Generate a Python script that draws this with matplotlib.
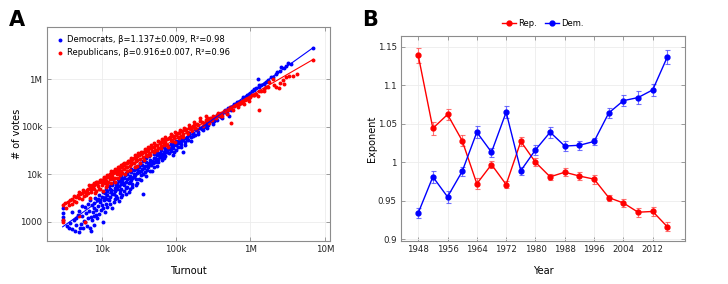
import numpy as np
import matplotlib
matplotlib.use("Agg")
import matplotlib.pyplot as plt
from matplotlib.lines import Line2D
from matplotlib.ticker import FixedLocator, FixedFormatter, FuncFormatter

# ---- panel A: county (turnout, votes), both in thousands ----
dem_points_k = [
    (3.0, 1.9), (3.0, 1.5), (3.0, 1.25), (3.0, 1.1), (3.4, 0.8), (3.6, 0.75), (3.8, 0.95), (4.0, 0.7),
    (4.2, 1.1), (4.4, 0.65), (4.6, 0.85), (4.8, 1.4), (5.0, 1.7), (5.0, 0.6), (5.1, 0.75), (5.3, 0.9),
    (5.5, 1.3), (5.6, 0.72), (5.8, 1.05), (6.0, 1.0), (6.0, 2.0), (6.2, 1.5), (6.4, 0.8), (6.6, 1.2),
    (7.0, 0.75), (7.1, 0.65), (7.2, 1.25), (7.4, 2.2), (7.6, 1.6), (7.8, 1.9), (8.0, 2.5), (8.0, 0.85),
    (8.3, 1.4), (8.5, 1.8), (8.7, 2.9), (9.0, 3.0), (9.0, 2.1), (9.3, 1.45), (9.6, 2.6), (10.0, 3.3),
    (10.2, 2.2), (10.5, 0.98), (10.8, 2.8), (11, 4.0), (11.2, 3.1), (11.5, 2.4), (12, 3.6), (12, 4.5),
    (12.5, 2.9), (13, 5.0), (13, 3.3), (13.5, 4.2), (14, 3.8), (14, 6.0), (14.5, 2.6), (15, 5.2),
    (15, 4.4), (15.5, 3.5), (16, 6.5), (16, 4.9), (17, 5.7), (17, 7.2), (17.5, 4.0), (18, 6.3),
    (18, 8.0), (18.5, 5.0), (19, 7.0), (19, 3.6), (20, 8.5), (20, 6.0), (20.5, 9.5), (21, 5.2),
    (22, 7.8), (22, 10), (23, 6.6), (23, 4.2), (24, 9.0), (25, 11), (25, 7.5), (26, 8.5), (27, 12.5),
    (28, 9.8), (29, 6.0), (30, 13), (30, 10.5), (32, 14.5), (32, 8.0), (34, 12), (35, 16), (36, 10),
    (38, 15), (36, 3.8), (40, 18), (42, 14), (45, 20), (46, 16), (48, 12), (50, 22), (52, 18),
    (55, 25), (55, 15), (58, 21), (60, 28), (62, 24), (65, 20), (68, 30), (70, 26), (72, 34),
    (75, 29), (80, 36), (85, 31), (88, 40), (90, 25), (95, 45), (100, 42), (105, 37), (110, 50),
    (115, 44), (120, 55), (125, 30), (130, 48), (140, 62), (145, 52), (150, 68), (160, 60), (170, 75),
    (180, 66), (190, 85), (200, 78), (210, 95), (220, 88), (240, 100), (250, 110), (260, 95),
    (280, 125), (300, 135), (310, 115), (330, 150), (350, 140), (380, 170), (400, 160), (420, 190),
    (450, 210), (480, 200), (500, 240), (520, 170), (550, 260), (600, 280), (650, 300), (700, 330),
    (750, 350), (800, 390), (850, 420), (900, 450), (950, 500), (1000, 520), (1050, 560), (1100, 600),
    (1250, 1000), (1200, 650), (1300, 700), (1400, 760), (1500, 800), (1700, 950), (1900, 1100),
    (2000, 1150), (2200, 1300), (2500, 1500), (2800, 1700), (3000, 1900), (3500, 2100), (7000, 4600),
    (4.0, 1.6), (4.5, 1.2), (5.5, 2.1), (6.5, 2.4), (7.0, 2.8), (7.5, 1.1), (8.2, 3.2), (8.8, 1.2),
    (9.2, 3.6), (9.8, 1.8), (10.5, 4.2), (11, 1.6), (11.5, 5.0), (12, 2.0), (12.5, 5.6), (13, 2.4),
    (13.5, 6.2), (14, 1.9), (14.5, 7.0), (15, 3.0), (15.5, 6.0), (16, 3.2), (16.5, 7.8), (17, 2.7),
    (18, 9.0), (18.5, 3.3), (19, 8.0), (20, 4.5), (21, 10.5), (21, 3.8), (22, 5.5), (23, 11.5),
    (24, 6.8), (24, 4.8), (25, 13), (26, 5.5), (27, 10), (28, 14), (29, 8.0), (30, 6.5), (31, 15),
    (32, 11), (33, 17), (34, 7.5), (35, 13), (36, 19), (38, 11), (40, 22), (40, 9.0), (42, 16),
    (44, 24), (45, 12), (47, 19), (50, 27), (50, 14), (53, 22), (55, 30), (57, 18), (60, 23),
    (62, 33), (65, 27), (68, 22), (70, 37), (72, 24), (75, 33), (78, 40), (80, 28), (85, 44),
    (90, 36), (95, 30), (100, 50), (100, 33), (110, 46), (115, 38), (120, 60), (125, 52), (130, 42),
    (140, 55), (150, 75), (160, 50), (170, 65), (180, 90), (200, 70), (220, 100), (230, 85),
    (250, 120), (270, 110), (300, 150), (320, 130), (360, 180), (400, 185), (420, 150), (450, 230),
    (500, 250), (550, 230), (600, 310), (650, 340), (700, 300), (800, 420), (900, 480), (1100, 620),
    (1300, 750), (1600, 900), (2300, 1400), (2600, 1800), (3200, 2200),
    (6.8, 1.7), (8.0, 1.3), (9.5, 2.9), (10.5, 1.9), (11.8, 3.0), (13.2, 4.6), (14.8, 3.9),
    (16.2, 5.6), (17.8, 4.6), (19.5, 6.6), (21.5, 7.0), (23.5, 8.2), (25.5, 6.2), (27.5, 8.8),
    (30.5, 11.8), (33.5, 9.5), (37, 13.5), (41, 12.5), (44, 17.5), (49, 17), (54, 20),
    (59, 26), (64, 23), (73, 30), (82, 34), (92, 41), (104, 46), (118, 50), (135, 58),
]

rep_points_k = [
    (3.0, 2.3), (3.0, 1.1), (3.0, 1.0), (3.2, 2.5), (3.5, 2.6), (3.8, 2.8), (4.0, 3.0), (4.2, 2.7),
    (4.5, 3.3), (4.8, 3.6), (5.0, 3.2), (5.0, 1.3), (5.2, 3.8), (5.5, 4.0), (5.8, 3.5), (6.0, 4.3),
    (6.0, 1.0), (6.3, 4.6), (6.6, 4.0), (7.0, 5.2), (7.0, 3.1), (7.3, 4.8), (7.6, 5.5), (8.0, 5.0),
    (8.0, 6.0), (8.4, 4.4), (8.8, 6.3), (9.0, 5.6), (9.3, 6.8), (9.6, 4.8), (10, 7.0), (10, 5.8),
    (10.5, 7.6), (11, 6.5), (11, 8.0), (11.5, 7.2), (12, 8.8), (12, 6.0), (12.5, 9.2), (13, 7.8),
    (13, 10), (13.5, 8.5), (14, 10.5), (14, 9.0), (15, 11), (15, 8.2), (15.5, 12), (16, 10),
    (16, 12.5), (17, 11), (17, 13.5), (17.5, 9.5), (18, 14), (18, 12), (19, 15), (19, 10.5),
    (20, 13), (20, 16), (21, 14.5), (22, 17), (22, 12), (23, 18), (24, 15), (25, 19), (25, 16.5),
    (26, 21), (27, 17), (28, 22), (29, 19), (30, 24), (30, 15), (32, 25), (33, 21), (35, 28),
    (36, 23), (38, 30), (40, 26), (42, 33), (44, 28), (46, 35), (48, 31), (50, 38), (52, 33),
    (55, 42), (58, 36), (60, 45), (62, 40), (65, 48), (68, 44), (70, 52), (72, 47), (75, 42),
    (80, 58), (85, 52), (90, 63), (95, 57), (100, 68), (105, 60), (110, 74), (115, 64), (120, 80),
    (125, 70), (130, 85), (140, 78), (150, 95), (160, 88), (170, 105), (180, 96), (190, 115),
    (200, 108), (220, 125), (240, 120), (250, 140), (270, 130), (290, 155), (300, 140), (320, 165),
    (350, 175), (380, 180), (400, 200), (420, 170), (450, 215), (500, 230), (540, 120), (550, 250),
    (600, 270), (650, 290), (700, 300), (750, 320), (800, 350), (850, 360), (900, 380), (950, 400),
    (1000, 430), (1050, 460), (1100, 470), (1200, 500), (1300, 230), (1300, 560), (1400, 580),
    (1500, 620), (1700, 680), (1800, 900), (2000, 1000), (2200, 700), (2400, 650), (2500, 850),
    (2800, 800), (3000, 1100), (3700, 1200), (7000, 2600),
    (3.3, 1.9), (3.6, 2.2), (4.0, 2.4), (4.3, 3.5), (4.6, 2.6), (5.0, 4.2), (5.4, 3.0), (5.7, 4.6),
    (6.2, 3.6), (6.8, 5.8), (7.2, 4.2), (7.8, 6.4), (8.2, 4.0), (8.6, 7.0), (9.2, 5.0), (9.8, 7.6),
    (10.3, 4.5), (10.8, 8.5), (11.3, 5.5), (11.8, 9.0), (12.3, 7.0), (12.8, 10.2), (13.3, 6.5),
    (13.8, 11), (14.3, 8.0), (14.8, 12), (15.3, 7.0), (16.5, 13), (16.8, 8.5), (17.3, 14.5),
    (18.5, 11), (19.5, 16.5), (20.5, 10), (21, 17.5), (22, 14), (23, 19), (24, 12.5), (25, 20),
    (26, 17), (27, 22), (28, 14), (29, 23), (30, 20), (31, 26), (33, 17), (34, 27), (36, 29),
    (37, 20), (39, 31), (41, 24), (43, 35), (45, 25), (47, 38), (50, 30), (53, 41), (56, 33),
    (60, 48), (63, 36), (66, 52), (70, 42), (75, 55), (78, 38), (82, 60), (88, 50), (92, 65),
    (98, 48), (105, 73), (110, 58), (118, 80), (125, 62), (135, 92), (145, 72), (155, 100),
    (165, 82), (175, 110), (190, 90), (210, 130), (230, 105), (260, 150), (280, 120), (310, 170),
    (340, 150), (370, 200), (400, 170), (440, 220), (480, 190), (530, 260), (580, 230), (620, 290),
    (680, 260), (750, 340), (820, 300), (880, 390), (950, 350), (1100, 480), (1250, 450),
    (1500, 560), (1600, 700), (2100, 760), (2700, 950), (3300, 1200), (4200, 1300),
    (6.5, 5.0), (7.5, 6.0), (8.5, 6.8), (9.5, 7.5), (10.8, 8.8), (12, 9.8), (13.5, 11.5),
    (15, 12.8), (16.8, 14), (18.5, 15.8), (20, 17.5), (22.5, 19.5), (25, 22), (28, 25),
    (31, 28), (34, 30), (38, 34), (42, 37), (46, 41), (51, 45), (57, 50), (64, 56), (72, 62),
    (85, 70), (97, 77), (112, 85), (128, 95), (150, 110), (175, 125), (210, 150), (250, 170),
]

# fitted power-law lines, endpoints (turnout, votes)
fit_turnout = [3000, 7000000]
dem_fit = [780, 4700000]
rep_fit = [2300, 2650000]

dem_label = "Democrats, β=1.137±0.009, R²=0.98"
rep_label = "Republicans, β=0.916±0.007, R²=0.96"

# ---- panel B: scaling exponent by election year ----
years = [1948, 1952, 1956, 1960, 1964, 1968, 1972, 1976, 1980, 1984, 1988, 1992, 1996, 2000, 2004, 2008, 2012, 2016]
rep_exp = [1.139, 1.044, 1.062, 1.028, 0.972, 0.997, 0.971, 1.027, 1.000, 0.981, 0.987, 0.982, 0.978,
           0.954, 0.947, 0.935, 0.936, 0.916]
rep_err = [0.010, 0.008, 0.007, 0.007, 0.007, 0.005, 0.004, 0.006, 0.005, 0.004, 0.005, 0.005, 0.006,
           0.004, 0.005, 0.006, 0.006, 0.006]
dem_exp = [0.934, 0.981, 0.955, 0.988, 1.039, 1.013, 1.065, 0.989, 1.016, 1.039, 1.021, 1.022, 1.027,
           1.064, 1.080, 1.084, 1.094, 1.137]
dem_err = [0.006, 0.008, 0.008, 0.006, 0.008, 0.006, 0.008, 0.005, 0.007, 0.007, 0.006, 0.006, 0.005,
           0.006, 0.007, 0.008, 0.008, 0.009]

RED = "#ff0000"
BLUE = "#0000ff"
FRAME = "#8c8c8c"
GRID = "#ececec"


def style_axes(ax):
    for s in ax.spines.values():
        s.set_color(FRAME)
        s.set_linewidth(0.8)
    ax.grid(True, color=GRID, linewidth=0.6)
    ax.set_axisbelow(True)
    ax.tick_params(which="major", direction="in", length=3, width=0.6, color=FRAME,
                   top=True, right=True, labelsize=6.2, pad=3, labelcolor="#222222")
    ax.tick_params(which="minor", length=0)


fig = plt.figure(figsize=(7.28, 2.84), dpi=100)

# panel A
dem = np.array(dem_points_k) * 1e3
rep = np.array(rep_points_k) * 1e3
axA = fig.add_axes([0.0641, 0.1525, 0.3892, 0.7535])
axA.set_xscale("log")
axA.set_yscale("log")
axA.scatter(dem[:, 0], dem[:, 1], s=8, color=BLUE, linewidths=0, label=dem_label, zorder=3)
axA.scatter(rep[:, 0], rep[:, 1], s=8, color=RED, linewidths=0, label=rep_label, zorder=3)
axA.plot(fit_turnout, dem_fit, color=BLUE, lw=0.8, zorder=4)
axA.plot(fit_turnout, rep_fit, color=RED, lw=0.8, zorder=4)
axA.set_xlim(1830, 1.17e7)
axA.set_ylim(398, 1.29e7)
axA.xaxis.set_major_locator(FixedLocator([1e4, 1e5, 1e6, 1e7]))
axA.xaxis.set_major_formatter(FixedFormatter(["10k", "100k", "1M", "10M"]))
axA.yaxis.set_major_locator(FixedLocator([1e3, 1e4, 1e5, 1e6]))
axA.yaxis.set_major_formatter(FixedFormatter(["1000", "10k", "100k", "1M"]))
style_axes(axA)
axA.set_xlabel("Turnout", fontsize=7, labelpad=9)
axA.set_ylabel("# of votes", fontsize=7)
axA.yaxis.set_label_coords(-0.088, 0.5)
axA.legend(loc="upper left", frameon=False, fontsize=6, markerscale=1.0, handletextpad=0.3,
           borderaxespad=0.6, labelspacing=0.5, handlelength=1.2, scatterpoints=1)
fig.text(0.012, 0.965, "A", fontsize=15, fontweight="bold", va="top", ha="left")

# panel B
axB = fig.add_axes([0.5508, 0.1525, 0.3901, 0.7207])
axB.errorbar(years, rep_exp, yerr=rep_err, color=RED, ecolor=(1, 0.3, 0.3, 0.8), lw=1,
             elinewidth=0.8, capsize=1.8, capthick=0.8, marker="o", ms=3.5)
axB.errorbar(years, dem_exp, yerr=dem_err, color=BLUE, ecolor=(0.3, 0.3, 1, 0.8), lw=1,
             elinewidth=0.8, capsize=1.8, capthick=0.8, marker="o", ms=3.5)
axB.set_xlim(1943.3, 2020.8)
axB.set_ylim(0.898, 1.164)
axB.set_xticks(list(range(1948, 2013, 8)))
axB.set_yticks([0.9, 0.95, 1.0, 1.05, 1.1, 1.15])
axB.yaxis.set_major_formatter(FuncFormatter(lambda v, p: "%g" % round(v, 3)))
style_axes(axB)
axB.set_xlabel("Year", fontsize=7, labelpad=9)
axB.set_ylabel("Exponent", fontsize=7)
axB.yaxis.set_label_coords(-0.085, 0.5)
handles = [Line2D([], [], color=RED, lw=1, marker="o", ms=3.5),
           Line2D([], [], color=BLUE, lw=1, marker="o", ms=3.5)]
fig.legend(handles=handles, labels=["Rep.", "Dem."], loc="center",
           bbox_to_anchor=(0.746, 0.916), ncol=2, frameon=False, fontsize=6,
           handlelength=1.6, handletextpad=0.3, columnspacing=1.0)
fig.text(0.497, 0.965, "B", fontsize=15, fontweight="bold", va="top", ha="left")

fig.savefig("out.png", dpi=100)
